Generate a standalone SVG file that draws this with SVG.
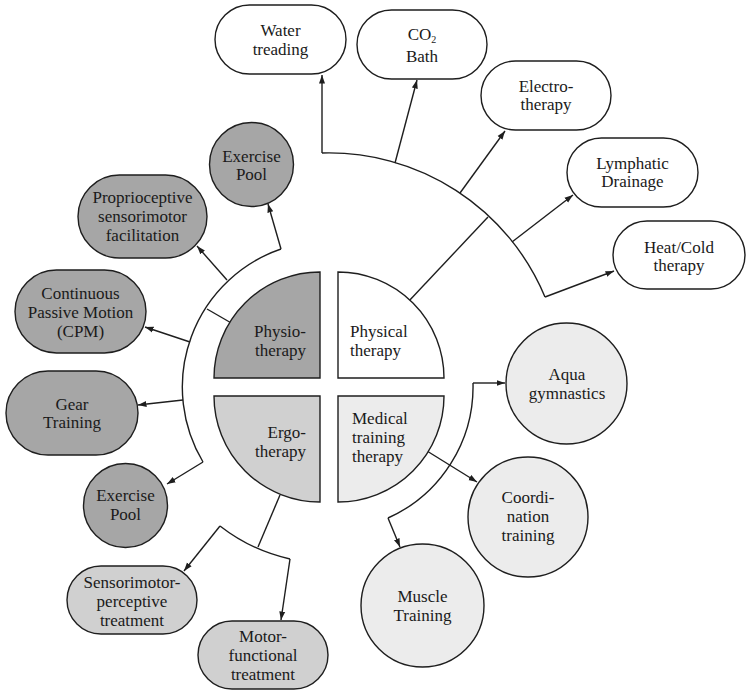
<svg xmlns="http://www.w3.org/2000/svg" width="749" height="696" viewBox="0 0 749 696">
<style>
.s{stroke:#1e1e1e;stroke-width:1.4;}
.w{fill:#ffffff;}
.d{fill:#a6a6a6;}
.m{fill:#d0d0d0;}
.l{fill:#ececec;}
.c{fill:none;stroke:#1e1e1e;stroke-width:1.4;}
.a{marker-end:url(#ah);}
text{font-family:"Liberation Serif","Times New Roman",serif;font-size:17px;fill:#1a1a1a;text-anchor:middle;}
.e{text-anchor:end;}
.st{text-anchor:start;}
</style>
<defs>
<marker id="ah" markerWidth="9" markerHeight="7" refX="8.5" refY="3.5" orient="auto" markerUnits="userSpaceOnUse">
<path d="M0,0.5 L8.5,3.5 L0,6.5 Z" fill="#1e1e1e"/>
</marker>
</defs>

<g id="connectors">
<!-- Physical therapy group -->
<path class="c" d="M322,153 A234,234 0 0 1 545,297"/>
<path class="c" d="M408,302 L488,217"/>
<path class="c a" d="M322,153 L322,75"/>
<path class="c a" d="M395,163 L417,80"/>
<path class="c a" d="M460,193 L505,131"/>
<path class="c a" d="M512,242 L573,195"/>
<path class="c a" d="M545,297 L614,271"/>
<!-- Physiotherapy group -->
<path class="c" d="M281,249 A146,146 0 0 0 203,462"/>
<path class="c" d="M207,309 L233,324"/>
<path class="c a" d="M281,249 L268,204"/>
<path class="c a" d="M227,280 L197,246"/>
<path class="c a" d="M190,342 L145,327"/>
<path class="c a" d="M183,400 L138,405"/>
<path class="c a" d="M203,462 L167,484"/>
<!-- Ergotherapy group -->
<path class="c" d="M220,526 A176,176 0 0 0 290,559"/>
<path class="c" d="M280,495 L258,547"/>
<path class="c a" d="M220,526 L184,571"/>
<path class="c a" d="M290,559 L281,620"/>
<!-- Medical training group -->
<path class="c" d="M473,383 A144,144 0 0 1 388,518"/>
<path class="c a" d="M473,383 L505,383"/>
<path class="c a" d="M388,518 L400,547"/>
<path class="c a" d="M427,451 L477,482"/>
</g>

<g id="q-physio"><path class="s d" d="M320,378 L320,272 A106,106 0 0 0 214,378 Z"/><text class="e" x="306" y="337">Physio-</text><text class="e" x="306" y="356">therapy</text></g>
<g id="q-physical"><path class="s w" d="M338,378 L338,272 A106,106 0 0 1 444,378 Z"/><text class="st" x="350" y="337">Physical</text><text class="st" x="350" y="356">therapy</text></g>
<g id="q-ergo"><path class="s m" d="M320,396 L320,502 A106,106 0 0 1 214,396 Z"/><text class="e" x="306" y="438">Ergo-</text><text class="e" x="306" y="457">therapy</text></g>
<g id="q-medical"><path class="s l" d="M338,396 L444,396 A106,106 0 0 1 338,502 Z"/><text class="st" x="352" y="424">Medical</text><text class="st" x="352" y="443">training</text><text class="st" x="352" y="462">therapy</text></g>

<g id="water-treading"><rect class="s w" x="215" y="5" width="131" height="69" rx="34.5"/><text x="280.5" y="36">Water</text><text x="280.5" y="55">treading</text></g>
<g id="co2-bath"><rect class="s w" x="357" y="10" width="130" height="69" rx="34.5"/><text x="422" y="40">CO<tspan font-size="10" dy="2.5">2</tspan></text><text x="422" y="62">Bath</text></g>
<g id="electrotherapy"><rect class="s w" x="481" y="61" width="130" height="69" rx="34.5"/><text x="546" y="92">Electro-</text><text x="546" y="110">therapy</text></g>
<g id="lymphatic-drainage"><rect class="s w" x="567" y="138" width="131" height="69" rx="34.5"/><text x="632.5" y="169">Lymphatic</text><text x="632.5" y="187">Drainage</text></g>
<g id="heat-cold"><rect class="s w" x="613" y="221" width="132" height="68" rx="34"/><text x="679" y="253">Heat/Cold</text><text x="679" y="271">therapy</text></g>

<g id="exercise-pool-1"><circle class="s d" cx="251.5" cy="164.5" r="42"/><text x="251.5" y="162">Exercise</text><text x="251.5" y="180">Pool</text></g>
<g id="proprioceptive"><rect class="s d" x="78" y="175" width="129" height="83" rx="41.5"/><text x="142.5" y="203">Proprioceptive</text><text x="142.5" y="222">sensorimotor</text><text x="142.5" y="241">facilitation</text></g>
<g id="cpm"><rect class="s d" x="15" y="270" width="131" height="83" rx="41.5"/><text x="80.5" y="299">Continuous</text><text x="80.5" y="318">Passive Motion</text><text x="80.5" y="337">(CPM)</text></g>
<g id="gear-training"><rect class="s d" x="6" y="371" width="132" height="84" rx="42"/><text x="72" y="410">Gear</text><text x="72" y="428">Training</text></g>
<g id="exercise-pool-2"><circle class="s d" cx="125.5" cy="505.5" r="42"/><text x="125.5" y="501">Exercise</text><text x="125.5" y="520">Pool</text></g>

<g id="sensorimotor-perceptive"><rect class="s m" x="67" y="566" width="130" height="68" rx="34"/><text x="132" y="588">Sensorimotor-</text><text x="132" y="607">perceptive</text><text x="132" y="626">treatment</text></g>
<g id="motor-functional"><rect class="s m" x="198" y="621" width="130" height="68" rx="34"/><text x="263" y="642">Motor-</text><text x="263" y="661">functional</text><text x="263" y="680">treatment</text></g>

<g id="aqua-gymnastics"><circle class="s l" cx="566.5" cy="383.5" r="60.5"/><text x="567" y="380">Aqua</text><text x="567" y="399">gymnastics</text></g>
<g id="coordination-training"><circle class="s l" cx="528" cy="517" r="60"/><text x="528" y="503">Coordi-</text><text x="528" y="522">nation</text><text x="528" y="541">training</text></g>
<g id="muscle-training"><circle class="s l" cx="422.5" cy="605.5" r="61.5"/><text x="422.5" y="602">Muscle</text><text x="422.5" y="621">Training</text></g>
</svg>
